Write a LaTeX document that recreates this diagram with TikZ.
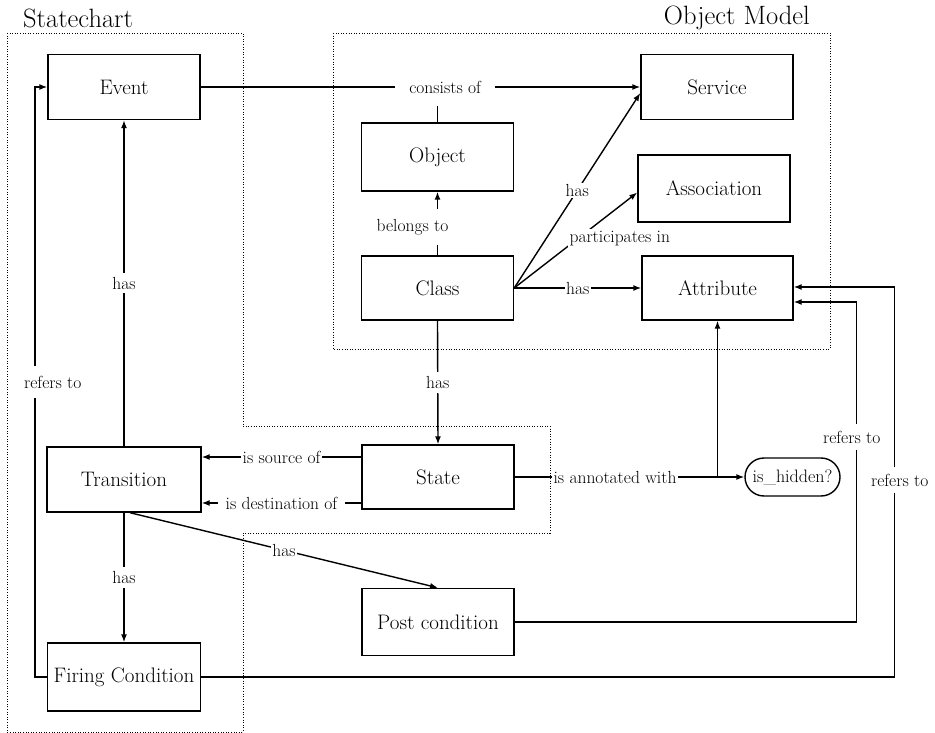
\documentclass[tikz,border=0pt]{standalone}
\usepackage{fontspec}
\usetikzlibrary{arrows.meta,calc}
\begin{document}
\begin{tikzpicture}[x=1pt,y=-1pt,
  box/.style={draw, line width=1.4pt, minimum width=152pt, minimum height=65pt, inner sep=0pt, font=\fontsize{21}{24}\selectfont},
  conn/.style={line width=1.4pt},
  arr/.style={conn, -{Latex[length=8pt,width=6pt]}},
  lbl/.style={fill=white, inner sep=1.5pt, font=\fontsize{17.5}{20}\selectfont},
  region/.style={line width=0.7pt, dash pattern=on 1pt off 1.6pt},
  title/.style={font=\fontsize{26.5}{30}\selectfont, inner sep=0pt}]
\useasboundingbox (0,0) rectangle (935,733);

% regions
\draw[region] (7,33) -- (243,33) -- (243,426) -- (550,426) -- (550,533) -- (243,533) -- (243,732) -- (7,732) -- cycle;
\draw[region] (333,33) rectangle (830,349);
\node[title, anchor=base west] (tsc) at (23,28) {Statechart};
\node[title, anchor=base east] (tom) at (810,25) {Object Model};

% boxes
\node[box] (event) at (124,87) {Event};
\node[box] (service) at (717,87) {Service};
\node[box, minimum height=68pt] (object) at (437.5,157) {Object};
\node[box, minimum height=67pt] (association) at (714,188.5) {Association};
\node[box, minimum height=64pt] (class) at (437.5,288) {Class};
\node[box, minimum width=151pt, minimum height=64pt] (attribute) at (717.5,288) {Attribute};
\node[box, minimum width=154pt] (transition) at (124,479.5) {Transition};
\node[box, minimum height=64pt] (state) at (438,477) {State};
\node[box, minimum height=67pt] (post) at (438,622) {Post condition};
\node[box, minimum width=153pt, minimum height=68pt] (firing) at (124,677) {Firing Condition};
\node[draw, line width=1.4pt, rounded corners=19pt, minimum width=95pt, minimum height=38pt, inner sep=0pt, font=\fontsize{18}{20}\selectfont] (hidden) at (792.5,477) {is\_hidden?};

% connectors
\draw[conn] (object.north) -- (object.north |- event.east);
\draw[arr] (event.east) -- (event.east -| service.west)
  node[lbl, pos=0.556, inner xsep=14pt, inner ysep=13pt] {consists of};
\draw[arr] (class.north) -- (object.south)
  node[lbl, pos=0.446, xshift=-25pt, inner ysep=10pt] {belongs to};
\draw[arr] (class.east) -- ([yshift=-6pt]service.west) node[lbl, pos=0.5] {has};
\draw[arr] (class.east) -- ([yshift=-4pt]association.west)
  node[lbl, pos=0.5, xshift=44pt, yshift=2pt] {participates in};
\draw[arr] (class.east) -- (attribute.west) node[lbl, pos=0.5] {has};
\draw[arr] (class.south) -- (state.north) node[lbl, pos=0.5, inner ysep=4pt] {has};
\draw[arr] (transition.north) -- (event.south) node[lbl, pos=0.5, inner ysep=4pt] {has};
\draw[arr] ([yshift=20pt]state.west) -- ([yshift=20pt]state.west -| transition.east)
  node[lbl, pos=0.5] {is source of};
\draw[arr] ([yshift=-26pt]state.west) -- ([yshift=-26pt]state.west -| transition.east)
  node[lbl, pos=0.5, inner xsep=8pt] {is destination of};
\draw[arr] (state.east) -- (hidden.west) node[lbl, pos=0.437] {is annotated with};
\draw[arr] (attribute.south |- hidden.west) -- (attribute.south);
\draw[arr] ([xshift=6pt]transition.south) -- (post.north) node[lbl, pos=0.5] {has};
\draw[arr] (transition.south) -- (firing.north) node[lbl, pos=0.5, inner ysep=4pt] {has};
\draw[arr] (post.east) -| node[lbl, pos=0.789, xshift=-5pt, inner ysep=7pt] {refers to}
  ($(attribute.east)+(63,14)$) -- ([yshift=-14pt]attribute.east);
\draw[arr] (firing.east) -| node[lbl, pos=0.7526, xshift=5pt, inner ysep=7pt] {refers to}
  ($(attribute.east)+(101,-1)$) -- ([yshift=1pt]attribute.east);
\draw[arr] (firing.west) -- ++(-12,0) |- node[lbl, pos=0.25, xshift=18pt, inner ysep=10pt] {refers to} (event.west);
\end{tikzpicture}
\end{document}
